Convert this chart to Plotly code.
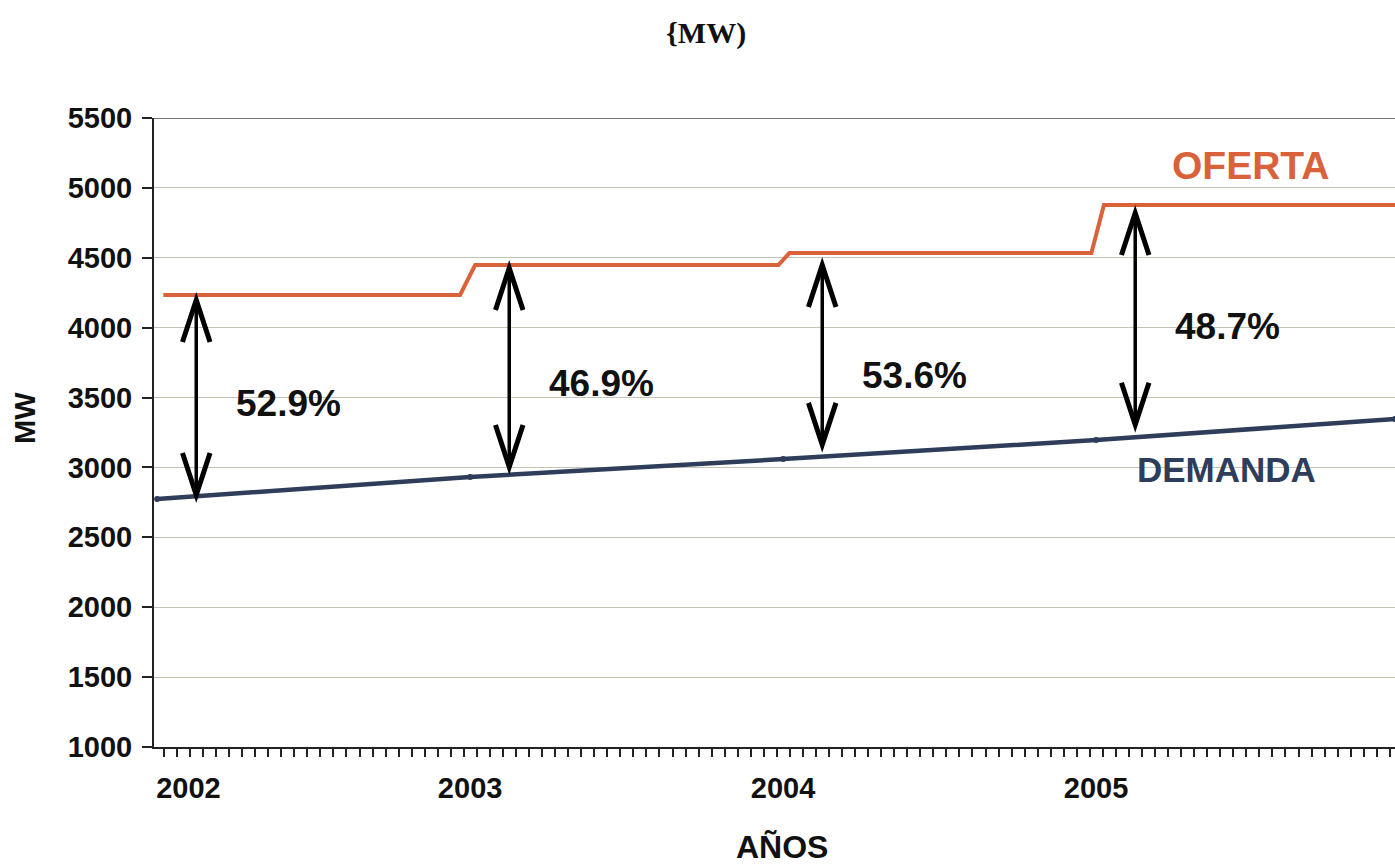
import numpy as np
import plotly.graph_objects as go

# Supply (oferta) — stepped capacity, MW
oferta_x = [2002.02, 2002.968, 2003.016, 2003.985, 2004.02, 2004.985, 2005.025, 2005.955]
oferta_y = [4234, 4234, 4448, 4448, 4534, 4534, 4878, 4878]

# Demand (demanda), MW
demanda_x = [2002.0, 2003.0, 2004.0, 2005.0, 2005.955]
demanda_y = [2774, 2932, 3060, 3196, 3347]

# Reserve margins per year
margin_years = [2002, 2003, 2004, 2005]
margin_text = ["52.9%", "46.9%", "53.6%", "48.7%"]
margin_label_y = [3461, 3604, 3661, 4005]

year_tickvals = [2002.1, 2003.0, 2004.0, 2005.0]
year_ticktext = ["2002", "2003", "2004", "2005"]
y_ticks = [1000, 1500, 2000, 2500, 3000, 3500, 4000, 4500, 5000, 5500]

ORANGE = "#d9623a"
NAVY = "#2d3d5a"
FONT = "Liberation Sans, Arial, sans-serif"

fig = go.Figure()
fig.add_trace(go.Scatter(x=oferta_x, y=oferta_y, mode="lines",
                         line=dict(color=ORANGE, width=4), hoverinfo="skip"))
fig.add_trace(go.Scatter(x=demanda_x, y=demanda_y, mode="lines+markers",
                         line=dict(color=NAVY, width=4.5),
                         marker=dict(size=6, color=NAVY), hoverinfo="skip"))

# Double-headed arrows spanning the gap between supply and demand
arrow_offset = 0.125
top_gap = [36, 21, 86, 58]
bottom_gap = [9, 56, 85, 90]
dx, dy = 0.044, 300
for i, yr in enumerate(margin_years):
    ax = yr + arrow_offset
    top = np.interp(ax, oferta_x, oferta_y) - top_gap[i]
    bot = np.interp(ax, demanda_x, demanda_y) + bottom_gap[i]
    fig.add_shape(type="line", x0=ax, x1=ax, y0=bot, y1=top,
                  line=dict(color="black", width=3.5))
    fig.add_shape(type="path",
                  path=f"M {ax-dx},{top-dy} L {ax},{top} L {ax+dx},{top-dy}",
                  line=dict(color="black", width=5))
    fig.add_shape(type="path",
                  path=f"M {ax-dx},{bot+dy} L {ax},{bot} L {ax+dx},{bot+dy}",
                  line=dict(color="black", width=5))
    fig.add_annotation(x=yr + 0.42, y=margin_label_y[i], text=f"<b>{margin_text[i]}</b>",
                       showarrow=False, xanchor="center", yanchor="middle",
                       font=dict(family=FONT, size=37, color="#111111"))

# Darker top border line
fig.add_shape(type="line", xref="paper", x0=0, x1=1, y0=5500, y1=5500,
              line=dict(color="#444444", width=1.5))

fig.add_annotation(x=2005.492, y=5157, text="<b>OFERTA</b>", showarrow=False,
                   xanchor="center", yanchor="middle",
                   font=dict(family=FONT, size=39, color=ORANGE))
fig.add_annotation(x=2005.418, y=2982, text="<b>DEMANDA</b>", showarrow=False,
                   xanchor="center", yanchor="middle",
                   font=dict(family=FONT, size=35, color=NAVY))

fig.add_annotation(xref="paper", yref="paper", x=(706 - 154) / 1241, y=1 + (118 - 33) / 629,
                   text="<b>{MW)</b>", showarrow=False, xanchor="center", yanchor="middle",
                   font=dict(family="Liberation Serif, Times New Roman, serif", size=30, color="#111111"))
fig.add_annotation(xref="paper", yref="paper", x=(782 - 154) / 1241, y=-(847 - 747) / 629,
                   text="<b>AÑOS</b>", showarrow=False, xanchor="center", yanchor="middle",
                   font=dict(family=FONT, size=32, color="#111111"))
fig.add_annotation(xref="paper", yref="paper", x=-(154 - 25) / 1241, y=(747 - 418) / 629,
                   text="<b>MW</b>", showarrow=False, textangle=-90,
                   xanchor="center", yanchor="middle",
                   font=dict(family=FONT, size=29, color="#111111"))

fig.update_layout(
    width=1395, height=867,
    margin=dict(l=154, r=0, t=118, b=120),
    paper_bgcolor="white", plot_bgcolor="white",
    showlegend=False,
    xaxis=dict(range=[2001.99, 2005.955], showgrid=False, zeroline=False,
               tickmode="array", tickvals=year_tickvals, ticktext=year_ticktext,
               ticks="", ticklabelstandoff=14,
               tickfont=dict(family=FONT, size=29, color="#111111", weight="bold"),
               showline=True, linecolor="#222222", linewidth=2,
               minor=dict(ticks="outside", ticklen=8, tickwidth=2, tickcolor="#222222",
                          tickmode="linear", tick0=2001.98, dtick=1 / 24, showgrid=False)),
    yaxis=dict(range=[1000, 5500], tickmode="array", tickvals=y_ticks,
               showgrid=True, gridcolor="#c4c4b4", gridwidth=1, zeroline=False,
               ticks="outside", ticklen=10, tickwidth=2, tickcolor="#222222",
               ticklabelstandoff=4,
               tickfont=dict(family=FONT, size=29, color="#111111", weight="bold"),
               showline=True, linecolor="#222222", linewidth=2),
)

fig.write_html("out.html")
